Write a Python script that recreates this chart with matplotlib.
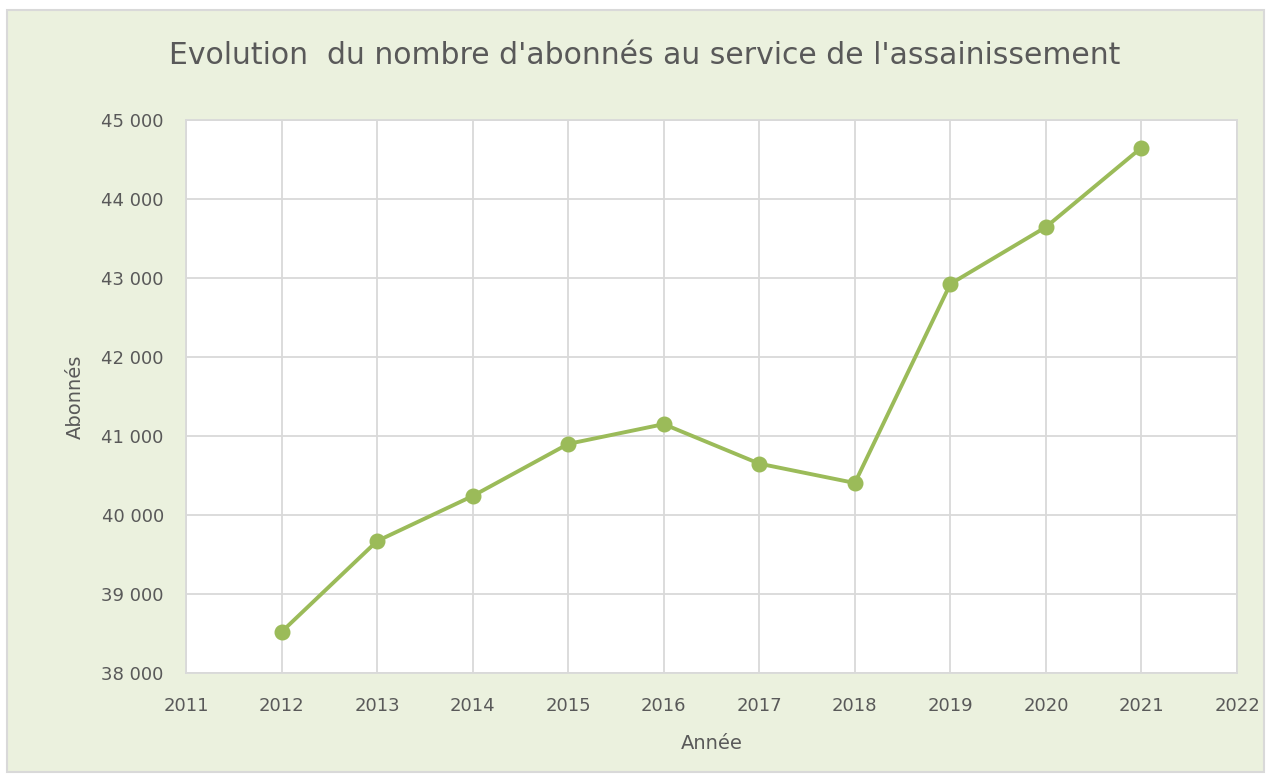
import matplotlib.pyplot as plt
from matplotlib.patches import Rectangle
from matplotlib.ticker import FuncFormatter

# %% Data

annees = [2012, 2013, 2014, 2015, 2016, 2017, 2018, 2019, 2020, 2021]
abonnes = [38520, 39670, 40240, 40900, 41150, 40650, 40405, 42925, 43645, 44650]

x_ticks = list(range(2011, 2023))
y_ticks = list(range(38000, 45001, 1000))

# %% Style

vert = "#9BBB59"
texte = "#595959"
grille = "#D9D9D9"
fond = "#EBF1DE"

plt.rcParams['font.family'] = ['DejaVu Sans']

# %% Figure

fig = plt.figure(figsize=(12.71, 7.74), dpi=100)
fig.patch.set_facecolor("white")
# chart area background with thin border
fig.patches.append(Rectangle((7 / 1271, 2 / 774), 1257 / 1271, 762 / 774,
                             transform=fig.transFigure, facecolor=fond,
                             edgecolor=grille, linewidth=1.5, zorder=-10))

ax = fig.add_axes([186 / 1271, 1 - 673 / 774, 1051 / 1271, 553 / 774])
ax.set_facecolor("white")

ax.plot(annees, abonnes, color=vert, linewidth=2.8, marker="o",
        markersize=10.5, zorder=3)

ax.set_xlim(2011, 2022)
ax.set_ylim(38000, 45000)
ax.set_xticks(x_ticks)
ax.set_yticks(y_ticks)
ax.yaxis.set_major_formatter(FuncFormatter(lambda v, p: f"{int(v):,}".replace(",", " ")))

ax.grid(True, color=grille, linewidth=1.3)
ax.set_axisbelow(True)
for s in ax.spines.values():
    s.set_color(grille)
    s.set_linewidth(1.3)
ax.tick_params(length=0, labelsize=13, colors=texte)
ax.tick_params(axis="x", pad=17)
ax.tick_params(axis="y", pad=16)

ax.set_xlabel("Année", fontsize=14, color=texte, labelpad=14)
ax.set_ylabel("Abonnés", fontsize=14, color=texte, labelpad=12)
fig.text(645 / 1271, 1 - 55 / 774,
         "Evolution  du nombre d'abonnés au service de l'assainissement",
         ha="center", va="center", fontsize=21.5, color=texte)

fig.savefig("out.png", dpi=100)
